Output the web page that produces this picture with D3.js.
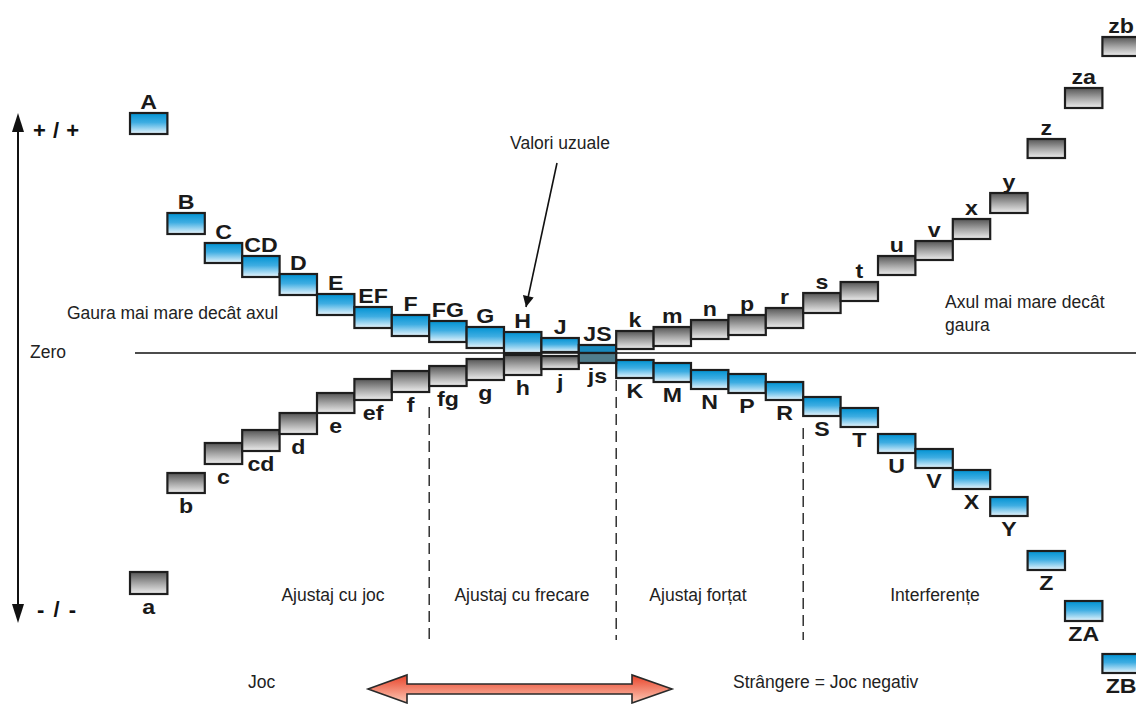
<!DOCTYPE html>
<html>
<head>
<meta charset="utf-8">
<script src="https://cdn.jsdelivr.net/npm/d3@7"></script>
<style>
html,body{margin:0;padding:0;background:#fff;}
svg{display:block;}
text{font-family:"Liberation Sans",Arial,Helvetica,sans-serif;}
</style>
</head>
<body>
<svg id="chart" width="1136" height="704"></svg>
<script>
// ---- data (arbitrary deviation units, 0 = zero line) ----
const holeLabels  = ["A","B","C","CD","D","E","EF","F","FG","G","H","J","JS","K","M","N","P","R","S","T","U","V","X","Y","Z","ZA","ZB"];
const holeUpper   = [120,70,55,48.5,39.5,29.5,23,19,16,13,10.5,7.5,4,-3.5,-5,-8.5,-10.5,-14.5,-22,-27.5,-40.5,-48,-58.5,-72,-99,-124,-150.5];
const holeLower   = [109.5,59.5,45,38,29,19,12.5,8.5,5.5,2.5,0,0.5,0,-12.5,-14.5,-18,-20,-23.5,-31.5,-37,-50,-57.5,-68,-81.5,-108.5,-134,-160];
const shaftLabels = ["a","b","c","cd","d","e","ef","f","fg","g","h","j","js","k","m","n","p","r","s","t","u","v","x","y","z","za","zb"];
const shaftUpper  = [-109.5,-60,-45,-38.5,-30,-20,-13,-9,-6.5,-3,-1,-1.5,0,11,13,16.5,19,22.5,30,35.5,48.5,56,67,80,107,132.5,158];
const shaftLower  = [-120.5,-70,-55.5,-49,-40.5,-30,-23.5,-19.5,-16.5,-13.5,-11,-8,-5,2,3.5,7,9,12.5,20,26,39,46.5,57,70,97.5,122.5,148.5];
const zoneDividers = ["FG","K","S"];
const zoneNames = ["Ajustaj cu joc","Ajustaj cu frecare","Ajustaj forțat","Interferențe"];

const svg = d3.select("#chart");
const defs = svg.append("defs");
function grad(id, stops){
  const g = defs.append("linearGradient").attr("id",id).attr("x1",0).attr("y1",0).attr("x2",0).attr("y2",1);
  stops.forEach(([o,c])=>g.append("stop").attr("offset",o).attr("stop-color",c));
}
grad("blueG",[[0,"#0092d2"],[0.45,"#3eade2"],[1,"#eaf6fd"]]);
grad("grayG",[[0,"#555555"],[0.5,"#a4a4a4"],[1,"#eeeeee"]]);
grad("redG",[[0,"#e8432a"],[1,"#fdc9b6"]]);
const mk = defs.append("marker").attr("id","ah").attr("viewBox","0 0 10 10").attr("refX",10).attr("refY",5)
  .attr("markerWidth",15).attr("markerHeight",11).attr("markerUnits","userSpaceOnUse").attr("orient","auto");
mk.append("path").attr("d","M0,0 L10,5 L0,10 Z").attr("fill","#111");

const x = d3.scaleBand().domain(d3.range(holeLabels.length)).range([130, 130 + 27*37.4]).padding(0);
const y = d3.scaleLinear().domain([-175,175]).range([703,3]);
const bw = x.bandwidth();

// zero line
svg.append("line").attr("x1",135).attr("x2",1136).attr("y1",y(0)).attr("y2",y(0))
  .attr("stroke","#111").attr("stroke-width",1.6);

// dashed zone dividers
const divX = zoneDividers.map(l=>x(holeLabels.indexOf(l)));
const divTop = [407,380,428];
svg.selectAll("line.div").data(divX).join("line").attr("class","div")
  .attr("x1",d=>d).attr("x2",d=>d).attr("y1",(d,i)=>divTop[i]).attr("y2",640)
  .attr("stroke","#222").attr("stroke-width",1.4).attr("stroke-dasharray","11,6");

function drawSeries(labels, up, lo, fill, special){
  const data = labels.map((l,i)=>({l,i,u:up[i],d:lo[i]}));
  const g = svg.append("g");
  g.selectAll("rect").data(data).join("rect")
    .attr("x",d=>x(d.i)).attr("width",bw)
    .attr("y",d=>y(d.u)).attr("height",d=>y(d.d)-y(d.u))
    .attr("fill",d=>special[d.l]||fill)
    .attr("stroke","#1e1e1e").attr("stroke-width",2.2);
  g.selectAll("text").data(data).join("text")
    .attr("transform",d=>`translate(${x(d.i)+bw/2},${(d.u+d.d)/2 >= 0 ? y(d.u)-4 : y(d.d)+20}) scale(1.13,1)`)
    .attr("text-anchor","middle").attr("font-weight","bold").attr("font-size",20.5)
    .attr("fill","#1a1a1a").text(d=>d.l);
}
drawSeries(holeLabels, holeUpper, holeLower, "url(#blueG)", {"JS":"#1889bd"});
drawSeries(shaftLabels, shaftUpper, shaftLower, "url(#grayG)", {"js":"#4f7d8c"});

// vertical +/- axis arrow
svg.append("line").attr("x1",18).attr("x2",18).attr("y1",128).attr("y2",608).attr("stroke","#111").attr("stroke-width",2);
svg.append("path").attr("d","M18,113 L12,132 L24,132 Z").attr("fill","#111");
svg.append("path").attr("d","M18,623 L12,604 L24,604 Z").attr("fill","#111");
svg.append("text").attr("x",33).attr("y",138).attr("font-weight","bold").attr("font-size",22)
  .attr("letter-spacing",0.5).attr("fill","#111").text("+ / +");
svg.append("text").attr("x",37).attr("y",617).attr("font-weight","bold").attr("font-size",22)
  .attr("letter-spacing",1.5).attr("fill","#111").text("- / -");

// annotation texts
const ann = [
  {t:"Zero",x:30,y:358,a:"start"},
  {t:"Gaura mai mare decât axul",x:67,y:319,a:"start"},
  {t:"Valori uzuale",x:560,y:149,a:"middle"},
  {t:"Axul mai mare decât",x:945,y:308,a:"start"},
  {t:"gaura",x:945,y:331,a:"start"},
  {t:"Joc",x:248,y:688,a:"start"},
  {t:"Strângere = Joc negativ",x:733,y:688,a:"start"}
];
svg.selectAll("text.ann").data(ann).join("text").attr("class","ann")
  .attr("x",d=>d.x).attr("y",d=>d.y).attr("text-anchor",d=>d.a)
  .attr("font-size",17.5).attr("fill","#222").text(d=>d.t);
const zoneX = [333,522,698,935];
svg.selectAll("text.zone").data(zoneNames).join("text").attr("class","zone")
  .attr("x",(d,i)=>zoneX[i]).attr("y",601).attr("text-anchor","middle")
  .attr("font-size",17.5).attr("fill","#222").text(d=>d);

// "Valori uzuale" pointer
svg.append("line").attr("x1",557).attr("y1",163).attr("x2",526).attr("y2",307)
  .attr("stroke","#111").attr("stroke-width",1.6).attr("marker-end","url(#ah)");

// bottom double arrow
const cy = 689;
svg.append("path")
  .attr("d",`M368,${cy} L407,${cy-14} L407,${cy-5} L632,${cy-5} L632,${cy-14} L672,${cy} L632,${cy+14} L632,${cy+5} L407,${cy+5} L407,${cy+14} Z`)
  .attr("fill","url(#redG)").attr("stroke","#2a2a2a").attr("stroke-width",1.6).attr("stroke-linejoin","miter");
</script>
</body>
</html>
